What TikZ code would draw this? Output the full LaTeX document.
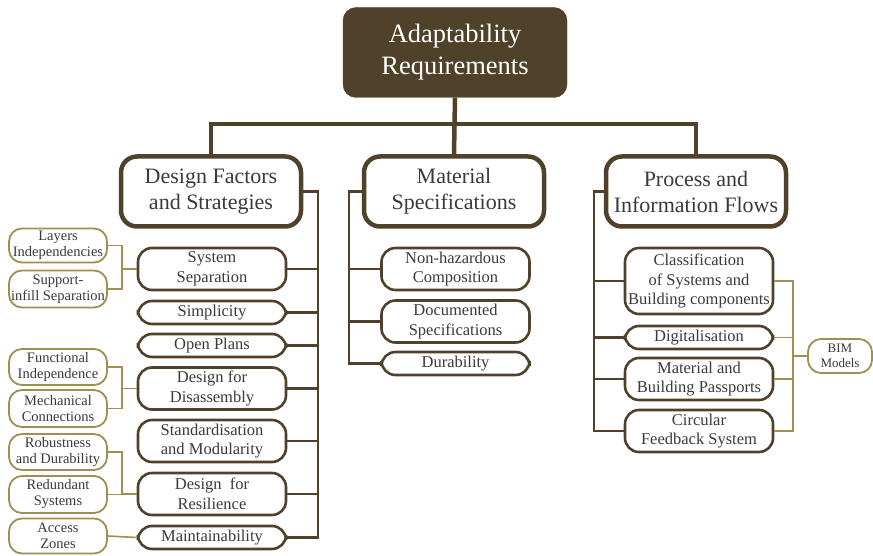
\documentclass[tikz,border=0pt]{standalone}
\usepackage{fontspec}
\setmainfont{Liberation Serif}
\definecolor{brn}{HTML}{50412A}
\definecolor{olv}{HTML}{A08E52}
\definecolor{txt}{HTML}{3A3A3A}
\begin{document}
\begin{tikzpicture}[x=1pt,y=-1pt,
  topbox/.style={draw=brn, fill=brn, rounded corners=13pt, minimum width=224pt, minimum height=90pt, text=white, font=\fontsize{26.5}{32}\selectfont, align=center, inner sep=2pt},
  lvl/.style={draw=brn, line width=4.5pt, fill=white, rounded corners=16pt, minimum width=180pt, minimum height=70pt, font=\fontsize{22}{26}\selectfont, align=center, text=txt, inner sep=1pt},
  sub/.style={draw=brn, line width=2.6pt, fill=white, rounded corners=14pt, minimum width=148pt, font=\fontsize{16.5}{19.5}\selectfont, align=center, text=txt, inner sep=0pt},
  oli/.style={draw=olv, line width=1.8pt, fill=white, rounded corners=13pt, minimum width=98pt, font=\fontsize{14.5}{16}\selectfont, align=center, text=txt, inner sep=0pt},
  thick conn/.style={draw=brn, line width=4.5pt},
  conn/.style={draw=brn, line width=2.6pt},
  oconn/.style={draw=olv, line width=1.6pt},
]
\useasboundingbox (0,0) rectangle (873,556);

% top
\node[topbox] (top) at (455,52.5) {Adaptability\\Requirements};

% level 2
\node[lvl] (dfs) at (211,191.5) {Design Factors\\and Strategies};
\node[lvl] (mat) at (454,191.5) {Material\\Specifications};
\node[lvl] (pif) at (696,191.5) {Process and\\Information Flows};

\coordinate (hb) at (455,124);
\draw[thick conn] (top.south) -- (mat.north);
\draw[thick conn] (dfs.north) -- (dfs.north |- hb) -- (pif.north |- hb) -- (pif.north);

% left column
\node[sub, minimum height=42pt] (ss) at (212,269) {System\\Separation};
\node[sub, minimum height=23pt] (simp) at (212,312.5) {Simplicity};
\node[sub, minimum height=23pt] (op) at (212,345.5) {Open Plans};
\node[sub, minimum height=42pt] (dd) at (212,388.5) {Design for\\Disassembly};
\node[sub, minimum height=42pt] (sm) at (212,441) {Standardisation\\and Modularity};
\node[sub, minimum height=42pt] (dr) at (212,494) {Design\enspace for\\Resilience};
\node[sub, minimum height=23pt] (mt) at (212,537.5) {Maintainability};

\coordinate (lx) at (318,0);
\draw[conn] (dfs.east) -- (dfs.east -| lx) -- (lx |- mt.east) -- (mt.east);
\foreach \n in {ss,simp,op,dd,sm,dr} \draw[conn] (\n.east) -- (\n.east -| lx);

% olive boxes
\node[oli, minimum height=34pt] (li) at (58,245.5) {Layers\\Independencies};
\node[oli, minimum height=37pt] (si) at (58,289) {Support-\\infill Separation};
\node[oli, minimum height=36pt] (fi) at (58,367) {Functional\\Independence};
\node[oli, minimum height=37pt] (mc) at (58,408.5) {Mechanical\\Connections};
\node[oli, minimum height=36pt] (rd) at (58,452) {Robustness\\and Durability};
\node[oli, minimum height=37pt] (rs) at (58,494.5) {Redundant\\Systems};
\node[oli, minimum height=35pt] (az) at (58,536) {Access\\Zones};

\coordinate (oj) at (122,0);
\draw[oconn] (li.east) -- (li.east -| oj) |- (si.east);
\draw[oconn] (oj |- ss.west) -- (ss.west);
\draw[oconn] (fi.east) -- (fi.east -| oj) |- (mc.east);
\draw[oconn] (oj |- dd.west) -- (dd.west);
\draw[oconn] (rd.east) -- (rd.east -| oj) |- (rs.east);
\draw[oconn] (oj |- dr.west) -- (dr.west);
\draw[oconn] (az.east) -- (mt.west);

% middle column
\node[sub, minimum height=42pt] (nh) at (455.5,269) {Non-hazardous\\Composition};
\node[sub, minimum height=42pt] (ds) at (455.5,321.5) {Documented\\Specifications};
\node[sub, minimum height=23pt] (du) at (455.5,363.5) {Durability};

\coordinate (mx) at (349,0);
\draw[conn] (mat.west) -- (mat.west -| mx) -- (mx |- du.west) -- (du.west);
\foreach \n in {nh,ds} \draw[conn] (\n.west) -- (\n.west -| mx);

% right column
\node[sub, minimum height=66pt] (cl) at (699,281) {Classification\\of Systems and\\Building components};
\node[sub, minimum height=23pt] (dg) at (699,337.5) {Digitalisation};
\node[sub, minimum height=42pt] (mb) at (699,379) {Material and\\Building Passports};
\node[sub, minimum height=42pt] (cf) at (699,431) {Circular\\Feedback System};

\coordinate (rx) at (594,0);
\draw[conn] (pif.west) -- (pif.west -| rx) -- (rx |- cf.west) -- (cf.west);
\foreach \n in {cl,dg,mb} \draw[conn] (\n.west) -- (\n.west -| rx);

\node[oli, minimum width=64pt, minimum height=34pt, font=\fontsize{13}{15}\selectfont] (bim) at (840,356) {BIM\\Models};
\coordinate (bx) at (793,0);
\draw[oconn] (cl.east) -- (cl.east -| bx) -- (bx |- cf.east) -- (cf.east);
\draw[oconn] (dg.east) -- (dg.east -| bx);
\draw[oconn] (mb.east) -- (mb.east -| bx);
\draw[oconn] (bx |- bim.west) -- (bim.west);
\end{tikzpicture}
\end{document}
